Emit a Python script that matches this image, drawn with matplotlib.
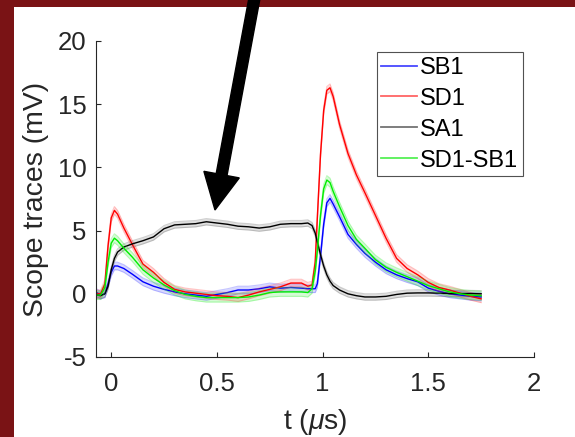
import numpy as np
import matplotlib
matplotlib.use('Agg')
import matplotlib.pyplot as plt
from matplotlib.lines import Line2D
from matplotlib.patches import Rectangle, FancyArrow

plt.rcParams['font.family'] = ['Liberation Sans', 'DejaVu Sans']
plt.rcParams['mathtext.fontset'] = 'custom'
plt.rcParams['mathtext.it'] = 'Liberation Sans:italic'
plt.rcParams['mathtext.rm'] = 'Liberation Sans'
plt.rcParams['axes.unicode_minus'] = False

# time axis (us)
t = [-0.07, -0.05, -0.03, -0.015, 0.0, 0.015, 0.03, 0.06, 0.1, 0.15, 0.2, 0.25,
     0.3, 0.35, 0.4, 0.45, 0.5, 0.55, 0.6, 0.65, 0.7, 0.75, 0.8, 0.85, 0.9, 0.93,
     0.95, 0.965, 0.975, 0.99, 1.005, 1.02, 1.035, 1.05, 1.08, 1.12, 1.16, 1.2,
     1.25, 1.3, 1.35, 1.4, 1.45, 1.5, 1.55, 1.6, 1.65, 1.7, 1.75]

sb1 = [0.1, -0.1, 0.0, 0.8, 1.7, 2.2, 2.2, 2.0, 1.55, 0.95, 0.6, 0.35,
       0.15, 0.0, -0.1, -0.2, -0.05, 0.1, 0.3, 0.3, 0.4, 0.55, 0.45, 0.5, 0.45, 0.4,
       0.4, 0.4, 0.8, 3.0, 5.5, 7.2, 7.55, 7.1, 6.1, 4.7, 3.9, 3.2,
       2.5, 1.9, 1.5, 1.2, 0.95, 0.45, 0.2, 0.0, -0.1, -0.2, -0.25]

sd1 = [0.0, 0.0, 0.8, 3.8, 6.0, 6.6, 6.3, 5.2, 3.9, 2.35, 1.7, 0.9,
       0.35, 0.15, 0.05, -0.05, -0.15, -0.2, -0.3, -0.1, 0.15, 0.35, 0.55, 0.85, 0.85, 0.6,
       0.7, 2.5, 6.0, 11.0, 14.5, 16.1, 16.3, 15.6, 13.4, 11.1, 9.4, 8.0,
       6.2, 4.4, 2.8, 2.0, 1.5, 0.9, 0.5, 0.3, 0.05, -0.2, -0.4]

sa1 = [-0.1, -0.15, 0.0, 0.6, 1.9, 2.8, 3.3, 3.7, 3.95, 4.2, 4.5, 5.15,
       5.45, 5.5, 5.55, 5.7, 5.6, 5.5, 5.35, 5.3, 5.2, 5.3, 5.5, 5.55, 5.55, 5.6,
       5.4, 4.8, 4.1, 3.1, 2.2, 1.5, 1.0, 0.65, 0.3, 0.0, -0.15, -0.25,
       -0.25, -0.2, -0.05, 0.05, 0.07, 0.07, 0.05, 0.02, 0.02, 0.02, 0.0]

sd1_sb1 = [-0.1, -0.1, 0.5, 2.5, 4.0, 4.4, 4.2, 3.6, 2.9, 1.9, 1.25, 0.7,
           0.25, -0.05, -0.2, -0.3, -0.3, -0.3, -0.3, -0.25, -0.1, 0.1, 0.15, 0.15, 0.15, 0.1,
           0.4, 1.8, 3.4, 6.2, 8.3, 9.0, 8.8, 8.1, 6.9, 5.4, 4.3, 3.6,
           2.7, 2.1, 1.7, 1.35, 1.0, 0.65, 0.4, 0.15, 0.0, -0.1, -0.15]

# half width of the shaded error band (mV)
err = {'SB1': 0.3, 'SD1': 0.3, 'SA1': 0.25, 'SD1-SB1': 0.35}

names = ['SB1', 'SD1', 'SA1', 'SD1-SB1']
series = [sb1, sd1, sa1, sd1_sb1]
colors = ['#0000ff', '#ff0000', '#000000', '#00ee00']
band_colors = ['#4040ff', '#ff4040', '#606060', '#30ee30']
legend_colors = ['#4848ff', '#ff6464', '#737373', '#55f055']

fig = plt.figure(figsize=(5.75, 4.37), dpi=100, facecolor='#7a1315')
fig.add_artist(Rectangle((14 / 575, 0), 1, 430 / 437, transform=fig.transFigure,
                         facecolor='white', edgecolor='none', zorder=-1))

ax = fig.add_axes([96 / 575, 1 - 357 / 437, 438 / 575, 316 / 437])
tt = np.array(t)
for name, y, c, bc in zip(names, series, colors, band_colors):
    y = np.array(y)
    e = err[name]
    ax.fill_between(tt, y - e, y + e, color=bc, alpha=0.2, linewidth=0)
    ax.plot(tt, y - e, color=bc, alpha=0.3, lw=0.8)
    ax.plot(tt, y + e, color=bc, alpha=0.3, lw=0.8)
    ax.plot(tt, y, color=c, lw=1.0)

ax.set_xlim(-0.072, 2)
ax.set_ylim(-5, 20)
ax.set_xticks([0, 0.5, 1, 1.5, 2])
ax.set_xticklabels(['0', '0.5', '1', '1.5', '2'])
ax.set_yticks([-5, 0, 5, 10, 15, 20])
for s in ['top', 'right']:
    ax.spines[s].set_visible(False)
for s in ['left', 'bottom']:
    ax.spines[s].set_color('#262626')
    ax.spines[s].set_linewidth(0.8)
ax.tick_params(direction='in', length=3.5, width=0.8, color='#262626',
               labelsize=18.5, labelcolor='#262626')
ax.tick_params(axis='x', pad=11)
ax.tick_params(axis='y', pad=7)
ax.set_xlabel(r't ($\mu$s)', fontsize=20.4, color='#262626', labelpad=8)
ax.set_ylabel('Scope traces (mV)', fontsize=20.4, color='#262626', labelpad=6)

handles = [Line2D([], [], color=c, lw=1.3) for c in legend_colors]
leg = ax.legend(handles, names, loc='upper right', bbox_to_anchor=(0.975, 0.965),
                fontsize=17, frameon=True, fancybox=False, handlelength=1.5,
                handletextpad=0.15, labelspacing=0.38, borderpad=0.2, borderaxespad=0)
leg.get_frame().set_edgecolor('#262626')
leg.get_frame().set_linewidth(0.8)

# pointer arrow on top
ov = fig.add_axes([0, 0, 1, 1], zorder=10)
ov.set_xlim(0, 575)
ov.set_ylim(437, 0)
ov.axis('off')
ov.add_patch(FancyArrow(256, -10, -41, 220, width=11, head_width=36, head_length=36,
                        length_includes_head=True, color='black'))

fig.savefig('out.png', dpi=100, facecolor=fig.get_facecolor())
